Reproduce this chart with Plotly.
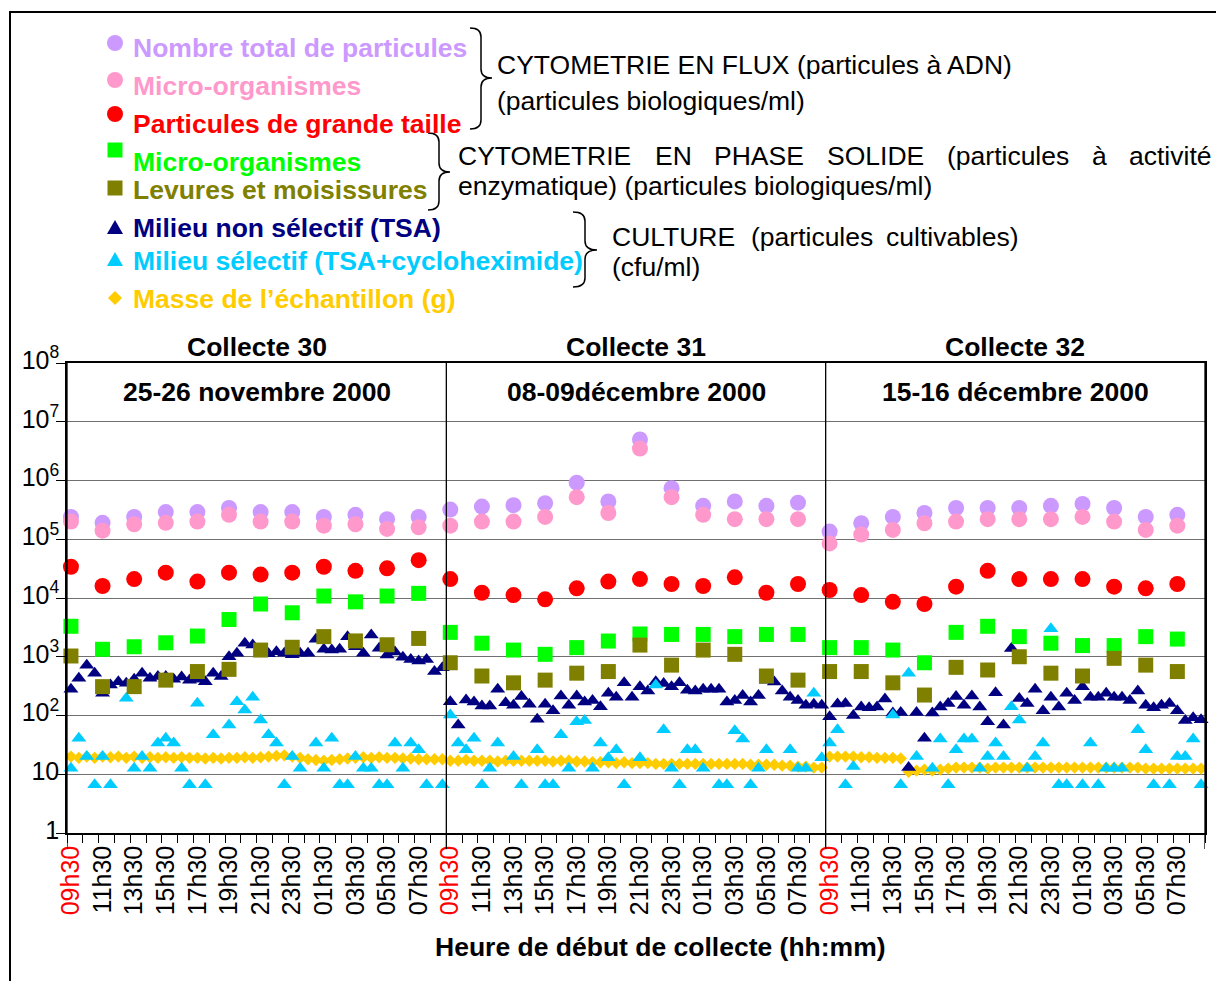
import plotly.graph_objects as go

# ----------------------------- data -----------------------------
collectes = ["Collecte 30", "Collecte 31", "Collecte 32"]
dates = ["25-26 novembre 2000", "08-09décembre 2000", "15-16 décembre 2000"]
hour_labels = ["09h30", "11h30", "13h30", "15h30", "17h30", "19h30",
               "21h30", "23h30", "01h30", "03h30", "05h30", "07h30"]

# Flow cytometry / solid phase cytometry (one value every 2 h, 12 per collecte)
total_particles = [
    [2.4e5, 1.9e5, 2.4e5, 2.9e5, 2.9e5, 3.4e5, 2.9e5, 2.9e5, 2.4e5, 2.6e5, 2.2e5, 2.4e5],
    [3.2e5, 3.6e5, 3.8e5, 4.1e5, 9.2e5, 4.4e5, 5.0e6, 7.4e5, 3.7e5, 4.4e5, 3.7e5, 4.2e5],
    [1.35e5, 1.87e5, 2.4e5, 2.8e5, 3.4e5, 3.4e5, 3.4e5, 3.7e5, 4.0e5, 3.4e5, 2.4e5, 2.6e5],
]
fc_micro = [
    [2.0e5, 1.4e5, 1.8e5, 1.9e5, 2.0e5, 2.6e5, 2.0e5, 2.0e5, 1.7e5, 1.8e5, 1.5e5, 1.6e5],
    [1.7e5, 2.0e5, 2.0e5, 2.4e5, 5.2e5, 2.8e5, 3.5e6, 5.2e5, 2.6e5, 2.2e5, 2.2e5, 2.2e5],
    [8.5e4, 1.2e5, 1.44e5, 1.87e5, 2.0e5, 2.2e5, 2.2e5, 2.2e5, 2.4e5, 2.0e5, 1.44e5, 1.7e5],
]
large_particles = [
    [3.4e4, 1.6e4, 2.1e4, 2.7e4, 1.9e4, 2.7e4, 2.5e4, 2.7e4, 3.4e4, 2.9e4, 3.2e4, 4.4e4],
    [2.1e4, 1.23e4, 1.12e4, 9.5e3, 1.46e4, 1.9e4, 2.1e4, 1.73e4, 1.6e4, 2.25e4, 1.23e4, 1.73e4],
    [1.37e4, 1.12e4, 8.6e3, 7.9e3, 1.56e4, 2.9e4, 2.1e4, 2.1e4, 2.1e4, 1.56e4, 1.46e4, 1.73e4],
]
sp_micro = [
    [3.3e3, 1.34e3, 1.48e3, 1.73e3, 2.25e3, 4.3e3, 7.9e3, 5.6e3, 1.08e4, 8.6e3, 1.08e4, 1.2e4],
    [2.6e3, 1.7e3, 1.3e3, 1.1e3, 1.43e3, 1.85e3, 2.44e3, 2.4e3, 2.4e3, 2.2e3, 2.4e3, 2.4e3],
    [1.43e3, 1.43e3, 1.3e3, 790, 2.6e3, 3.3e3, 2.2e3, 1.7e3, 1.55e3, 1.55e3, 2.2e3, 2.0e3],
]
yeasts_moulds = [
    [1030, 310, 310, 400, 560, 610, 1300, 1450, 2200, 1860, 1600, 2050],
    [790, 470, 360, 400, 525, 560, 1580, 720, 1300, 1100, 470, 400],
    [560, 560, 360, 223, 660, 595, 1000, 525, 470, 940, 720, 560],
]

# Culture (one value every 30 min, 48 per collecte)
tsa = [
    [280, 430, 720, 525, 240, 330, 375, 355, 415, 525, 430, 460, 460, 415, 450, 400,
     415, 375, 525, 460, 1000, 1150, 1700, 1580, 1150, 1120, 1220, 1150, 1080, 1150, 1150, 1980,
     1340, 1300, 1340, 2190, 1480, 1150, 2340, 1390, 1070, 1200, 980, 900, 850, 900, 560, 650],
    [172, 69, 183, 170, 145, 145, 280, 165, 150, 210, 155, 86, 155, 120, 215, 150,
     215, 170, 180, 141, 239, 205, 360, 205, 310, 260, 375, 350, 310, 360, 270, 260,
     280, 280, 280, 170, 180, 220, 170, 220, 400, 370, 260, 205, 180, 150, 155, 150],
    [95, 157, 160, 100, 140, 135, 140, 190, 110, 112, 13, 112, 41, 110, 140, 160,
     210, 150, 215, 140, 78, 245, 69, 1380, 195, 160, 280, 120, 205, 140, 240, 180,
     310, 205, 205, 240, 205, 205, 180, 260, 150, 135, 150, 160, 120, 82, 92, 85],
]
tsa_cyclo = [
    [12.6, 41, 20, 6.6, 20, 6.6, None, 196, 12.6, 20, 12.6, 34, 41, 34, 12.6, 6.6,
     161, 6.6, 47, None, 69, 172, 124, 204, 84, 47, 34, 6.6, 20, 12.6, None, 34,
     12.6, 41, 6.6, 6.6, 20, 12.6, 12.6, 6.6, 6.6, 34, 12.6, 34, 26, 6.6, None, 6.6],
    [102, 34, 26, 41, 6.6, 12.6, 34, None, 20, 6.6, None, 26, 6.6, 6.6, 47, 12.6,
     78, 82, 12.6, 34, 19, 26, 6.6, None, 19, None, 330, 57, 12.6, 6.6, 26, 26,
     12.6, None, 6.6, 6.6, 55, 40, 6.6, 12.6, 26, None, None, 26, 12.6, 12.6, 239, 19],
    [34, 57, 6.6, 13.5, None, None, None, None, 102, 6.6, 525, 20, None, 12.6, 40, 6.6,
     26, 40, 40, 12.6, 20, 34, 20, 141, 84, 12.6, 20, 34, 3000, 6.6, 6.6, None,
     6.6, 34, 6.6, 12.6, 12.6, 12.6, None, 57, 26, 6.6, None, 6.6, 20, 20, 40, 6.6],
]
sample_mass = [
    [20, 19, 20, 19, 20, 19.5, 20, 19, 20, 19, 19.5, 19, 19.5, 19, 19.5, 19,
     19, 18.5, 19, 18.5, 19, 19, 19.5, 19, 19.5, 20, 20.5, 21, 20, 19, 18, 17.5,
     17, 17.5, 18, 18.5, 19, 19.5, 19, 19.5, 19, 19, 18.5, 18.5, 18, 18, 18, 18],
    [17, 17, 17.5, 17, 17, 17, 16.5, 17, 17, 17, 17, 17, 17, 16.5, 17, 17,
     16.5, 16.5, 16, 16, 16, 15.5, 16, 15.5, 15.5, 15.5, 15, 15, 15, 15, 15, 15,
     15, 15, 15, 15, 15, 15, 14.5, 14.5, 14.5, 14.5, 14, 14, 13.5, 13.5, 13, 13],
    [20, 20, 20, 20, 19.5, 19.5, 19, 19, 19, 18.5, 11, 11.5, 12, 11.5, 12, 12.5,
     13, 13, 13, 13, 12.5, 13, 13, 13, 13, 13, 13, 13, 13, 13, 13, 13,
     13, 13, 13, 13, 13, 13, 13, 13, 12.5, 12.5, 12.5, 12.5, 12.5, 12.5, 12.5, 12.5],
]

# ----------------------------- layout helpers -----------------------------
W, H = 1216, 981
ML, MR, MT, MB = 67, 11, 363, 148
PW, PH = W - ML - MR, H - MT - MB
SLOTS = 48          # half-hour slots per collecte
NP = len(collectes)
FONT = "Liberation Sans, Arial, sans-serif"
FS = 26.5


def fx(x):
    return (x - ML) / PW


def fy(y):
    return (H - MB - y) / PH


def half_x(p, n):
    return [p * SLOTS + k + 0.5 for k in range(n)]


def two_h_x(p, n):
    return [p * SLOTS + 4 * j + 0.5 for j in range(n)]


def series(arr, xfun):
    xs, ys = [], []
    for p, vals in enumerate(arr):
        xs += xfun(p, len(vals))
        ys += list(vals)
    return xs, ys


fig = go.Figure()

styles = [
    ("Masse de l’échantillon (g)", sample_mass, half_x, "diamond", 9.5, "#FFCC00"),
    ("Milieu non sélectif (TSA)", tsa, half_x, "triangle-up", 13, "#000080"),
    ("Milieu sélectif (TSA+cycloheximide)", tsa_cyclo, half_x, "triangle-up", 13, "#00CCFF"),
    ("Nombre total de particules", total_particles, two_h_x, "circle", 16, "#CC99FF"),
    ("Micro-organismes (CF)", fc_micro, two_h_x, "circle", 16, "#FF99CC"),
    ("Particules de grande taille", large_particles, two_h_x, "circle", 16, "#FF0000"),
    ("Micro-organismes (CPS)", sp_micro, two_h_x, "square", 15, "#00FF00"),
    ("Levures et moisissures", yeasts_moulds, two_h_x, "square", 15, "#808000"),
]
for name, arr, xfun, sym, size, col in styles:
    xs, ys = series(arr, xfun)
    fig.add_trace(go.Scatter(
        x=xs, y=ys, mode="markers", name=name, showlegend=False,
        marker=dict(symbol=sym, size=size, color=col, line=dict(width=0)),
        cliponaxis=False,
    ))

# x ticks: labels every 2 h (every 4 half-hour slots), tick marks every hour
tickvals, ticktext = [], []
for p in range(NP):
    for j, lab in enumerate(hour_labels):
        tickvals.append(p * SLOTS + 4 * j + 0.5)
        ticktext.append(f'<span style="color:#FF0000">{lab}</span>' if j == 0 else lab)

ytickvals = [10 ** e for e in range(0, 9)]
yticktext = ["1", "10"] + [f"10<sup>{e}</sup>" for e in range(2, 9)]

fig.update_xaxes(
    range=[0, NP * SLOTS], showgrid=False, zeroline=False,
    tickmode="array", tickvals=tickvals, ticktext=ticktext, tickangle=-90,
    ticks="", tickfont=dict(family=FONT, size=25, color="black"), ticklabelstandoff=1,
    minor=dict(tick0=0, dtick=2, ticks="outside", ticklen=8, tickcolor="black", tickwidth=1),
    showline=True, linecolor="black", linewidth=1.5, mirror=True,
)
fig.update_yaxes(
    type="log", range=[0, 8], tickmode="array", tickvals=ytickvals, ticktext=yticktext,
    ticks="outside", ticklen=9, tickcolor="black",
    tickfont=dict(family=FONT, size=25, color="black"), ticklabelshift=-3,
    ticklabelstandoff=-8,
    showgrid=True, gridcolor="#707070", gridwidth=1.3, zeroline=False,
    showline=True, linecolor="black", linewidth=1.5, mirror=True,
)

shapes = []
# panel separators (extend a little below the axis)
for p in range(NP + 1):
    shapes.append(dict(type="line", xref="x", yref="paper", x0=p * SLOTS, x1=p * SLOTS,
                       y0=fy(849), y1=1, line=dict(color="black", width=1.3)))
# outer frame
shapes.append(dict(type="rect", xref="paper", yref="paper", x0=fx(10), x1=fx(1240),
                   y0=fy(1000), y1=fy(12), line=dict(color="black", width=2)))

annotations = []


def label(x, y, txt, xref="paper", xanchor="center", color="black"):
    annotations.append(dict(xref=xref, yref="paper", x=x, y=fy(y), xanchor=xanchor,
                            yanchor="middle", text=txt, showarrow=False,
                            font=dict(family=FONT, size=FS, color=color)))


for p in range(NP):
    label(p * SLOTS + SLOTS / 2, 347, f"<b>{collectes[p]}</b>", xref="x")
    label(p * SLOTS + SLOTS / 2, 392, f"<b>{dates[p]}</b>", xref="x")
label(fx(660), 947, "<b>Heure de début de collecte (hh:mm)</b>")

# ----------------------------- custom legend -----------------------------
legend_items = [
    ("circle", "#CC99FF", "Nombre total de particules", 43, 48),
    ("circle", "#FF99CC", "Micro-organismes", 80, 86),
    ("circle", "#FF0000", "Particules de grande taille", 114, 124),
    ("square", "#00FF00", "Micro-organismes", 150, 162),
    ("square", "#808000", "Levures et moisissures", 188, 190),
    ("triangle", "#000080", "Milieu non sélectif (TSA)", 227, 228),
    ("triangle", "#00CCFF", "Milieu sélectif (TSA+cycloheximide)", 259, 261),
    ("diamond", "#FFCC00", "Masse de l’échantillon (g)", 298, 299),
]
mx = 115
for sym, col, txt, my, ty in legend_items:
    if sym == "circle":
        shapes.append(dict(type="circle", xref="paper", yref="paper", x0=fx(mx - 8), x1=fx(mx + 8),
                           y0=fy(my + 8), y1=fy(my - 8), fillcolor=col, line=dict(width=0)))
    elif sym == "square":
        shapes.append(dict(type="rect", xref="paper", yref="paper", x0=fx(mx - 7.5), x1=fx(mx + 7.5),
                           y0=fy(my + 7.5), y1=fy(my - 7.5), fillcolor=col, line=dict(width=0)))
    elif sym == "triangle":
        path = (f"M{fx(mx - 8)},{fy(my + 7)} L{fx(mx + 8)},{fy(my + 7)} "
                f"L{fx(mx)},{fy(my - 7)} Z")
        shapes.append(dict(type="path", xref="paper", yref="paper", path=path,
                           fillcolor=col, line=dict(width=0)))
    else:
        path = (f"M{fx(mx - 7)},{fy(my)} L{fx(mx)},{fy(my - 7)} "
                f"L{fx(mx + 7)},{fy(my)} L{fx(mx)},{fy(my + 7)} Z")
        shapes.append(dict(type="path", xref="paper", yref="paper", path=path,
                           fillcolor=col, line=dict(width=0)))
    label(fx(131), ty, f"<b>{txt}</b>", xanchor="left", color=col)


def brace(x0, x1, y0, y1, ym, r=9):
    xm = (x0 + x1) / 2
    return (f"M{fx(x0)},{fy(y0)} Q{fx(xm)},{fy(y0)} {fx(xm)},{fy(y0 + r)} "
            f"L{fx(xm)},{fy(ym - r)} Q{fx(xm)},{fy(ym)} {fx(x1)},{fy(ym)} "
            f"Q{fx(xm)},{fy(ym)} {fx(xm)},{fy(ym + r)} "
            f"L{fx(xm)},{fy(y1 - r)} Q{fx(xm)},{fy(y1)} {fx(x0)},{fy(y1)}")


for b in [(470, 492, 28, 129, 78), (428, 450, 133, 210, 172), (573, 597, 212, 287, 250)]:
    shapes.append(dict(type="path", xref="paper", yref="paper", path=brace(*b),
                       line=dict(color="black", width=1.5)))


def text_at(x, y, txt):
    label(fx(x), y, txt, xanchor="left")


text_at(495, 65, "CYTOMETRIE EN FLUX (particules à ADN)")
text_at(495, 101, "(particules biologiques/ml)")
for x, w in [(456, "CYTOMETRIE"), (653, "EN"), (712, "PHASE"), (825, "SOLIDE"),
             (945, "(particules"), (1090, "à"), (1127, "activité")]:
    text_at(x, 156, w)
text_at(456, 186, "enzymatique) (particules biologiques/ml)")
for x, w in [(610, "CULTURE"), (749, "(particules"), (884, "cultivables)")]:
    text_at(x, 237, w)
text_at(610, 267, "(cfu/ml)")

fig.update_layout(
    width=W, height=H, margin=dict(l=ML, r=MR, t=MT, b=MB, autoexpand=False),
    paper_bgcolor="white", plot_bgcolor="white",
    shapes=shapes, annotations=annotations, showlegend=False,
    font=dict(family=FONT, color="black"),
)

fig.write_html("out.html", config={"displayModeBar": False},
               post_script="document.body.style.margin='0';")
